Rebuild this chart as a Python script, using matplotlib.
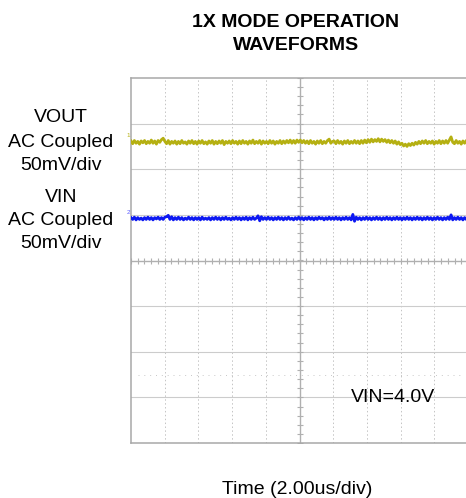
import numpy as np
import matplotlib
matplotlib.use("Agg")
import matplotlib.pyplot as plt

plt.rcParams['font.family'] = ['Liberation Sans', 'DejaVu Sans']

W, H = 466, 498

# scope screen: 10 x 8 divisions
n_xdiv, n_ydiv = 10, 8
ch1_level = 2.59   # div above centre
ch2_level = 0.92
mv_per_div = 50.0

# ripple, mV (200 samples across the screen)
vout_mv = [1.5, -1.5, 2, -1, 1, -2, 1.5, -0.5, 2, -1.5, 1, -1, 2.5, -1, 1.5, -2, 2, 0, 3, 4.5,
           1, -1.5, 2, -2, 1, -1, 1.5, -2, 1, -1.5, 2, -1, 0.5, -2, 1.5, -1, 2, -1.5, 1, -2,
           1.5, -1, 2, -1.5, 0.5, -2, 1.5, -1, 2, -2, 1, -1.5, 1.5, -1, 2, -2.5, 1, -1, 1.5, -1.5,
           2, -1, 1, -2, 1.5, -1.5, 2, -1, 1, -2, 1.5, -1, 2.5, -1.5, 1, -1, 2, -2, 1.5, -1,
           1, -1.5, 2, -1, 1.5, -2, 1, -1, 2, -1.5, 1.5, -1, 2, -0.5, 2.5, -1, 2, -1, 2.5, 0,
           2.5, -0.5, 2, -1, 1.5, -1.5, 2, -1, 1, -2, 1.5, -1, 2, -1.5, 1, -1, 2, 3.5, -1, 1,
           1.5, -1.5, 2, -1, 1, -2, 1.5, -1, 2, -1.5, 1, -1, 2, -1, 1.5, -1.5, 2, -1, 2.5, -0.5,
           3, 0, 3.5, 0.5, 3, 1, 4, 0.5, 3.5, 1, 3, 0, 2.5, -0.5, 2, -1, 1.5, -2, 0.5, -2.5,
           -1, -4, -2, -4.5, -1.5, -3.5, -1, -3, 0, -2, 1, -1.5, 1.5, -1, 2, -1.5, 1, -1, 1.5, -2,
           1, -1, 2, -1.5, 1.5, -1, 2, -1, 2.5, 6, 0, -1.5, 2, -1, 1, -2, 1.5, -1, 2, -0.5]
vin_mv = [1, -1, 1.5, -1.5, 1, -1, 0.5, -1.5, 1, -1, 1.5, -1, 1, -1.5, 1, -0.5, 1.5, -1, 1, -1,
          1.5, 2, 3.5, -1, 2, -1.5, 1, -1, 1.5, -1, 1, -1.5, 0.5, -1, 1.5, -1, 1, -1.5, 1, -1,
          1, -1.5, 1.5, -1, 0.5, -1, 1, -1.5, 1, -1, 1.5, -1, 1, -1.5, 1, -1, 1.5, -1, 0.5, -1.5,
          1, -1, 1.5, -1, 1, -1.5, 1, -1, 1.5, -1.5, 1, -1, 1.5, -1, 0.5, 3, -2.5, 2, -1, 1,
          -1, 1.5, -1, 1, -1.5, 1, -1, 1.5, -1, 1, -1.5, 1, -1, 1.5, -1, 0.5, -1.5, 1, -1, 1.5,
          -1, 1, -1.5, 1, -1, 1.5, -1, 1, -1.5, 1, -1, 1.5, -0.5, 1, -1.5, 1, -1, 1.5, -1, 1,
          -1, 1.5, -1, 1, -1.5, 1, -1, 1.5, -1, 1, -1.5, 4.5, -3, 1.5, -1, 1, -1.5, 1, -1, 1.5,
          -1, 1, -1.5, 1, -1, 1.5, -1, 1, -1.5, 1, -1, 1.5, -1, 1, -1.5, 1, -1, 1.5, -1, 1,
          -1.5, 1, -1, 1.5, -1, 1, -1.5, 1, -1, 1.5, -1, 1, -1.5, 1, -1, 1.5, -1, 1, -1.5, 1,
          -1, 1.5, -1, 1, -1.5, 1, -1, 1.5, -1, 4, -1.5, 1, -1, 1.5, -1, 1, -1.5, 1, -1, 1.5]

left_labels = [("VOUT", 122), ("AC Coupled", 147), ("50mV/div", 170),
               ("VIN", 202), ("AC Coupled", 225), ("50mV/div", 248)]

fig = plt.figure(figsize=(W / 100, H / 100), dpi=100)

# axes box in pixels: left 131, right 468, top 78, bottom 443
x0, x1, y0, y1 = 131, 468, 78, 443
ax = fig.add_axes([x0 / W, 1 - y1 / H, (x1 - x0) / W, (y1 - y0) / H])
ax.set_xlim(0, n_xdiv)
ax.set_ylim(-n_ydiv / 2, n_ydiv / 2)
ax.set_xticks([])
ax.set_yticks([])
for s in ax.spines.values():
    s.set_color('#a8a8a8')
    s.set_linewidth(1.1)

# graticule
for gx in range(1, n_xdiv):
    if gx != n_xdiv // 2:
        ax.axvline(gx, color='#c4c4c4', lw=0.7, ls=(0, (1.5, 2.5)), zorder=1)
for gy in range(-3, 4):
    if gy != 0:
        ax.axhline(gy, color='#cccccc', lw=0.8, zorder=1)
ax.axhline(-2.52, xmin=0.02, xmax=0.98, color='#c8c8c8', lw=0.7, ls=(0, (1, 5)), zorder=1)

# centre cross with minor ticks
ax.axhline(0, color='#b0b0b0', lw=1.0, zorder=1)
ax.axvline(n_xdiv / 2, color='#b0b0b0', lw=1.0, zorder=1)
tx = np.arange(0, n_xdiv + 0.01, 0.2)
ty = np.arange(-n_ydiv / 2, n_ydiv / 2 + 0.01, 0.2)
ax.plot(tx, np.zeros_like(tx), ls='none', marker='|', ms=4, mew=0.8, color='#b0b0b0', zorder=1)
ax.plot(np.full_like(ty, n_xdiv / 2), ty, ls='none', marker='_', ms=4, mew=0.8, color='#b0b0b0', zorder=1)

# traces
xv = np.linspace(0, n_xdiv, len(vout_mv))
ax.plot(xv, ch1_level + np.array(vout_mv) / mv_per_div, color='#b5b012', lw=2.0, zorder=3)
xi = np.linspace(0, n_xdiv, len(vin_mv))
ax.plot(xi, ch2_level + np.array(vin_mv) / mv_per_div, color='#0c18f2', lw=2.0, zorder=3)

# channel markers
fig.text(128 / W, 1 - 137 / H, "1", color='#b5b012', fontsize=4.5, ha='center', va='baseline')
fig.text(128 / W, 1 - 214 / H, "2", color='#5a5aff', fontsize=4.5, ha='center', va='baseline')

fig.text(393 / W, 1 - 402 / H, "VIN=4.0V", fontsize=14, ha='center', va='baseline')

for txt, yb in left_labels:
    fig.text(61 / W, 1 - yb / H, txt, fontsize=14, ha='center', va='baseline')

fig.text(296 / W, 1 - 27 / H, "1X MODE OPERATION", fontsize=14, fontweight='bold',
         ha='center', va='baseline')
fig.text(296 / W, 1 - 50 / H, "WAVEFORMS", fontsize=14, fontweight='bold',
         ha='center', va='baseline')
fig.text(297 / W, 1 - 494 / H, "Time (2.00us/div)", fontsize=14, ha='center', va='baseline')

fig.savefig("out.png", dpi=100)
